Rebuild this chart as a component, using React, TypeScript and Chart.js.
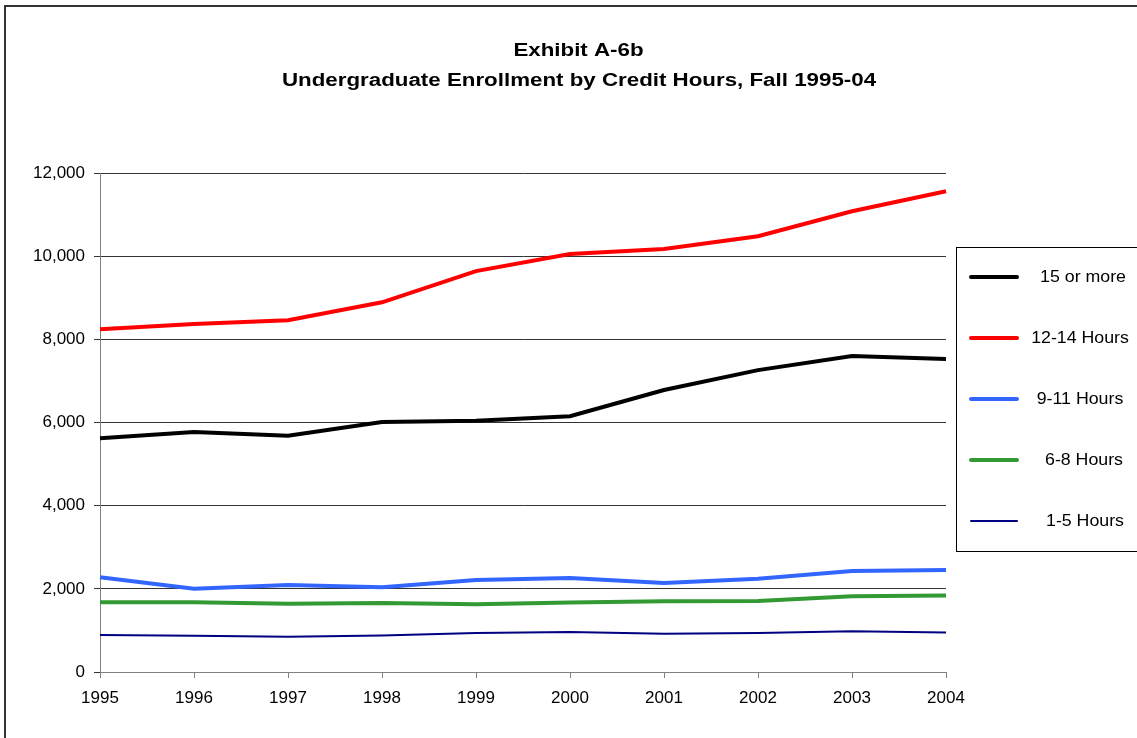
import React, { useEffect, useRef } from "react";
import { Chart, registerables } from "chart.js";

Chart.register(...registerables);

const years = ["1995", "1996", "1997", "1998", "1999", "2000", "2001", "2002", "2003", "2004"];
const fifteenOrMore = [5620, 5770, 5680, 6010, 6040, 6150, 6780, 7260, 7600, 7530];
const twelveToFourteen = [8240, 8370, 8460, 8890, 9640, 10050, 10170, 10480, 11080, 11560];
const nineToEleven = [2280, 2000, 2090, 2040, 2210, 2260, 2140, 2240, 2430, 2450];
const sixToEight = [1680, 1680, 1640, 1660, 1630, 1670, 1700, 1710, 1820, 1840];
const oneToFive = [890, 870, 850, 880, 940, 960, 920, 940, 980, 950];

const titleLines = ["Exhibit A-6b", "Undergraduate Enrollment by Credit Hours, Fall 1995-04"];
const seriesLabels = ["15 or more", "12-14 Hours", "9-11 Hours", "6-8 Hours", "1-5 Hours"];
const seriesColors = ["#000000", "#FF0000", "#3366FF", "#339933", "#000080"];
const seriesWidths = [4, 4, 4, 4, 2];

const FONT = "Arial, 'Liberation Sans', sans-serif";

function stretchedText(ctx: CanvasRenderingContext2D, text: string, x: number, y: number, sx: number) {
  ctx.save();
  ctx.translate(x, y);
  ctx.scale(sx, 1);
  ctx.fillText(text, 0, 0);
  ctx.restore();
}

export default function App() {
  const ref = useRef<HTMLCanvasElement | null>(null);
  useEffect(() => {
    if (!ref.current) return;
    const seriesData = [fifteenOrMore, twelveToFourteen, nineToEleven, sixToEight, oneToFive];
    const decor = {
      id: "decor",
      afterDraw(chart: any) {
        const ctx = chart.ctx as CanvasRenderingContext2D;
        ctx.save();
        // outer frame
        ctx.strokeStyle = "#333333";
        ctx.lineWidth = 2;
        ctx.strokeRect(5, 6, 1300, 900);
        // title
        ctx.fillStyle = "#000";
        ctx.font = `bold 18px ${FONT}`;
        ctx.textAlign = "center";
        ctx.textBaseline = "middle";
        stretchedText(ctx, titleLines[0], 578.5, 51, 1.24);
        stretchedText(ctx, titleLines[1], 579, 81, 1.24);
        // legend box
        ctx.strokeStyle = "#000";
        ctx.lineWidth = 1;
        ctx.strokeRect(956.5, 247.5, 300, 304);
        ctx.font = `16px ${FONT}`;
        ctx.textAlign = "center";
        const centers = [1083, 1080, 1080, 1084, 1085];
        chart.data.datasets.forEach((ds: any, i: number) => {
          const y = 277 + i * 61;
          ctx.strokeStyle = ds.borderColor;
          ctx.lineWidth = ds.borderWidth;
          ctx.lineCap = "round";
          ctx.beginPath();
          ctx.moveTo(971, y);
          ctx.lineTo(1017, y);
          ctx.stroke();
          ctx.fillStyle = "#000";
          stretchedText(ctx, ds.label, centers[i], y + 1, 1.11);
        });
        ctx.restore();
      },
    };
    const chart = new Chart(ref.current, {
      type: "line",
      data: {
        labels: years,
        datasets: seriesData.map((d, i) => ({
          label: seriesLabels[i],
          data: d,
          borderColor: seriesColors[i],
          backgroundColor: seriesColors[i],
          borderWidth: seriesWidths[i],
          pointRadius: 0,
          tension: 0,
          fill: false,
        })),
      },
      options: {
        responsive: false,
        animation: false,
        devicePixelRatio: 1,
        layout: { padding: { left: 0, right: 191, top: 173, bottom: 0 } },
        plugins: {
          legend: { display: false },
          title: { display: false },
          tooltip: { enabled: false },
        },
        scales: {
          x: {
            type: "category",
            offset: false,
            grid: { display: true, drawOnChartArea: false, drawTicks: true, tickLength: 6, color: "#808080" },
            border: { color: "#808080", width: 1 },
            ticks: { color: "#000", font: { family: FONT, size: 17 }, padding: 10, maxRotation: 0, autoSkip: false },
            afterFit(scale: any) {
              scale.height = 66;
            },
          },
          y: {
            min: 0,
            max: 12000,
            ticks: {
              stepSize: 2000,
              color: "#000",
              font: { family: FONT, size: 17 },
              padding: 9,
              callback: (v: any) => Number(v).toLocaleString("en-US"),
            },
            grid: { color: "#333333", tickLength: 6, drawTicks: true },
            border: { color: "#808080", width: 1 },
            afterFit(scale: any) {
              scale.width = 100;
            },
          },
        },
      },
      plugins: [decor],
    });
    return () => chart.destroy();
  }, []);
  return (
    <div style={{ position: "fixed", left: 0, top: 0, width: 1137, height: 738, background: "#fff" }}>
      <canvas ref={ref} width={1137} height={738} style={{ width: 1137, height: 738, display: "block" }} />
    </div>
  );
}
